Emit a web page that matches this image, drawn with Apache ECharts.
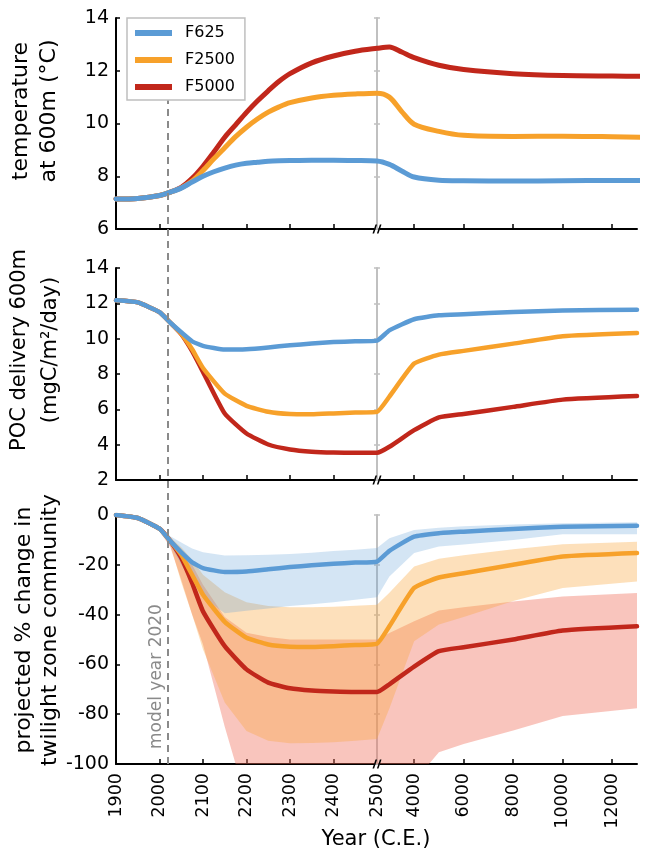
<!DOCTYPE html>
<html><head><meta charset="utf-8">
<script src="https://cdn.jsdelivr.net/npm/echarts@6/dist/echarts.min.js"></script>
<style>html,body{margin:0;padding:0;background:#fff}#c{width:651px;height:854px}</style>
</head><body><div id="c"></div>
<script>
// ---------- DATA ----------
const tickYears = [1900,2000,2100,2200,2300,2400,2500,4000,6000,8000,10000,12000];
const tickLabels = ['1900','2000','2100','2200','2300','2400','2500','4000','6000','8000','10000','12000'];
const seriesNames = ['F625','F2500','F5000'];

// temperature at 600m
const topYears = [1900,1950,2000,2025,2050,2075,2100,2125,2150,2175,2200,2225,2250,2275,2300,2350,2400,2450,2500,3000,3500,4000,5000,6000,8000,10000,12000,13300];
const topF625  = [7.14,7.16,7.27,7.40,7.55,7.78,8.00,8.17,8.31,8.42,8.49,8.53,8.57,8.59,8.60,8.61,8.61,8.60,8.58,8.45,8.20,7.97,7.85,7.83,7.82,7.83,7.84,7.84];
const topF2500 = [7.14,7.16,7.27,7.40,7.56,7.82,8.22,8.66,9.08,9.50,9.86,10.17,10.43,10.63,10.79,10.97,11.07,11.12,11.15,11.00,10.45,9.97,9.70,9.55,9.51,9.52,9.50,9.48];
const topF5000 = [7.14,7.16,7.27,7.40,7.58,7.92,8.38,8.92,9.48,9.95,10.42,10.85,11.24,11.60,11.89,12.30,12.56,12.74,12.85,12.90,12.71,12.50,12.21,12.05,11.89,11.82,11.80,11.79];

// POC delivery 600m
const midYears = [1900,1950,2000,2025,2050,2075,2100,2150,2200,2250,2300,2350,2400,2450,2500,3000,4000,5000,6000,8000,10000,13000];
const midF625  = [12.17,12.05,11.50,10.90,10.36,9.85,9.59,9.38,9.40,9.50,9.63,9.72,9.81,9.85,9.89,10.47,11.10,11.32,11.38,11.51,11.60,11.64];
const midF2500 = [12.17,12.05,11.50,10.90,10.28,9.40,8.34,6.89,6.20,5.86,5.73,5.72,5.77,5.82,5.86,6.72,8.59,9.10,9.31,9.72,10.14,10.32];
const midF5000 = [12.17,12.05,11.50,10.90,10.25,9.29,8.12,5.76,4.63,4.01,3.73,3.60,3.55,3.54,3.54,3.88,4.82,5.54,5.74,6.14,6.55,6.75];

// projected % change in twilight zone community (line, lower, upper)
const botYears = [1900,1950,2000,2025,2050,2075,2100,2150,2200,2250,2300,2350,2400,2450,2500,3000,4000,5000,6000,8000,10000,13000];
const botF625    = [0,-1.2,-5.5,-10.5,-15,-19,-21.3,-22.9,-22.7,-21.8,-20.9,-20.2,-19.6,-19.1,-18.7,-14.4,-8.7,-7.3,-6.7,-5.6,-4.7,-4.3];
const botF625Lo  = [0,-1.5,-6.5,-12,-20,-27,-33,-39.5,-38.5,-37.5,-36.5,-35.8,-35,-34,-33,-24.7,-15.3,-12.7,-11.8,-10,-7.7,-7.7];
const botF625Hi  = [0,-1,-5,-8.5,-11,-13.5,-15,-16.3,-16.2,-16,-15.7,-15.2,-14.5,-14,-13.3,-9.3,-6,-5.1,-4.5,-3.8,-3.3,-2.9];
const botF2500   = [0,-1.2,-5.5,-10.5,-16,-24,-32,-42.9,-49.3,-52,-52.9,-53,-52.7,-52.2,-51.7,-44.7,-29.3,-25.1,-23.4,-20,-16.7,-15.3];
const botF2500Lo = [0,-1.5,-6.5,-12,-27,-40,-54,-75.3,-86.7,-90.7,-91.7,-91.6,-91.3,-90.7,-90,-77.7,-50.7,-44,-41,-34.5,-29.3,-26.7];
const botF2500Hi = [0,-1,-5,-9,-13,-18,-24,-31,-35,-36.5,-37,-37,-36.8,-36.4,-36,-31.2,-20.7,-17.6,-16.2,-13.8,-11.7,-10.7];
const botF5000   = [0,-1.2,-5.5,-10.5,-17.3,-27.3,-38.7,-52.7,-62,-67.3,-69.6,-70.5,-70.9,-71.1,-71.1,-68,-60.9,-54.7,-53.1,-50,-46.4,-44.7];
const botF5000Lo = [0,-1.5,-6.5,-13,-26,-40,-52,-85,-115,-120,-120,-120,-120,-122,-125,-120,-107,-95.3,-92,-86.5,-80.7,-77.6];
const botF5000Hi = [0,-1,-5,-9,-14,-20,-28,-41,-47.3,-49,-50,-50,-50,-50,-50,-47.4,-42.7,-38.4,-37,-34.7,-32.7,-31.3];

const modelYear = 2020;
const breakYear = 2500;

// ---------- STYLE / SCALE ----------
const FONT = 'DejaVu Sans';
const COLORS = {F625:'#5b9bd5', F2500:'#f7a12a', F5000:'#c1271b'};
const BANDS = {F625:'rgba(100,160,215,0.28)', F2500:'rgba(250,165,60,0.35)', F5000:'rgba(240,110,90,0.40)'};
const K = 0.05693;                     // compression of the axis after the break
const T = y => y <= breakYear ? y : breakYear + (y - breakYear) * K;
const XMIN = 1900, XMAX = T(13000);
const GL = 116, GR = 14, W = 651;
const gridW = W - GL - GR;
const BRK_OFF = -(T(breakYear) - XMIN) / (XMAX - XMIN) * gridW;
const tickT = tickYears.map(T);

const grids = [
  {left:GL, right:GR, top:18, height:211},
  {left:GL, right:GR, top:268, height:212},
  {left:GL, right:GR, top:515, height:249},
  {left:GL, right:GR, top:18, height:746}
].map(g => Object.assign(g, {outerBoundsMode:'none', containLabel:false}));

function xAxis(gi, showLabel){
  return {gridIndex:gi, type:'value', min:XMIN, max:XMAX,
    axisLine:{show:true, onZero:false, lineStyle:{color:'#000', width:2}},
    axisTick:{show:true, inside:true, length:5, customValues:tickT, lineStyle:{color:'#000', width:1.5}},
    axisLabel:{show:showLabel, customValues:tickT, rotate:90, margin:9, fontSize:17.5, fontFamily:FONT, color:'#000', hideOverlap:false,
      formatter: v => { const i = tickT.findIndex(t => Math.abs(t - v) < 0.01); return i >= 0 ? tickLabels[i] : ''; }},
    splitLine:{show:false}};
}
function yAxis(gi, min, max, interval){
  return {gridIndex:gi, type:'value', min, max, interval,
    axisLine:{show:true, onZero:false, lineStyle:{color:'#000', width:2}},
    axisTick:{show:true, inside:true, length:4, lineStyle:{color:'#000', width:1.5}},
    axisLabel:{fontSize:19, fontFamily:FONT, color:'#000', margin:7},
    splitLine:{show:false}};
}
function breakAxis(gi, min, max, interval, inside){
  return {gridIndex:gi, type:'value', min, max, interval, position:'left', offset:BRK_OFF,
    axisLine:{show:!inside, onZero:false, lineStyle:{color:'#c0c0c0', width:2}},
    axisTick:{show:true, inside:inside, length:3, lineStyle:{color:'#c0c0c0', width:1.5}},
    axisLabel:{show:false}, splitLine:{show:false}, z:1};
}

const xAxes = [xAxis(0,false), xAxis(1,false), xAxis(2,true),
  {gridIndex:3, type:'value', min:XMIN, max:XMAX, show:false}];
const yAxes = [
  yAxis(0,6,14,2), yAxis(1,2,14,2), yAxis(2,-100,0,20),
  breakAxis(0,6,14,2,false), breakAxis(0,6,14,2,true),
  breakAxis(1,2,14,2,false), breakAxis(1,2,14,2,true),
  breakAxis(2,-100,0,20,false), breakAxis(2,-100,0,20,true),
  {gridIndex:3, type:'value', min:0, max:1, show:false}
];

const breakMark = ymin => ({silent:true, symbol:'path://M0,10L3,0L4.6,0L1.6,10Z M4.4,10L7.4,0L9,0L6,10Z', symbolSize:[9,9],
  itemStyle:{color:'#000'}, label:{show:false}, data:[{coord:[T(breakYear), ymin]}]});

function line(name, gi, years, vals, width, smooth, ymin, withMark){
  const s = {name, type:'line', xAxisIndex:gi, yAxisIndex:gi, data:years.map((y,i)=>[T(y), vals[i]]),
    symbol:'none', smooth:smooth, clip: gi !== 0, color:COLORS[name],
    lineStyle:{color:COLORS[name], width:width, cap:'round', join:'round'}, z:3};
  if (withMark) s.markPoint = breakMark(ymin);
  return s;
}
// uncertainty band: one polygon between lower and upper bound, placed through the axes' scales
function band(name, years, lo, hi){
  const pts = years.map((y,i)=>[T(y), lo[i], hi[i]]);
  return {name:name+' range', type:'custom', xAxisIndex:2, yAxisIndex:2, silent:true, z:2,
    data:pts, encode:{x:0, y:[1,2]},
    renderItem:(params, api) => {
      if (params.dataIndex !== 0) return null;
      const upper = pts.map(p => api.coord([p[0], p[2]]));
      const lower = pts.map(p => api.coord([p[0], p[1]])).reverse();
      const cs = params.coordSys;
      return {type:'polygon', shape:{points:upper.concat(lower)}, style:{fill:BANDS[name]},
        clipPath:{type:'rect', shape:{x:cs.x, y:cs.y, width:cs.width, height:cs.height}}};
    }};
}

const series = [
  band('F5000', botYears, botF5000Lo, botF5000Hi),
  band('F2500', botYears, botF2500Lo, botF2500Hi),
  band('F625', botYears, botF625Lo, botF625Hi),
  line('F5000',0,topYears,topF5000,5,0.3),
  line('F2500',0,topYears,topF2500,5,0.3),
  line('F625',0,topYears,topF625,5,0.3,6,true),
  line('F5000',1,midYears,midF5000,4.5,0.15),
  line('F2500',1,midYears,midF2500,4.5,0.15),
  line('F625',1,midYears,midF625,4.5,0.15,2,true),
  line('F5000',2,botYears,botF5000,4.5,0.15),
  line('F2500',2,botYears,botF2500,4.5,0.15),
  line('F625',2,botYears,botF625,4.5,0.15,-100,true),
  {name:'model year', type:'line', xAxisIndex:3, yAxisIndex:9, data:[], z:4,
   markLine:{silent:true, symbol:['none','none'], animation:false,
     lineStyle:{color:'#8a8a8a', width:2, type:[7,5]},
     label:{show:true, position:'insideStartTop', formatter:'model year ' + modelYear, color:'#8a8a8a', fontSize:17, fontFamily:FONT, distance:[15,3]},
     data:[[{coord:[modelYear,0]},{coord:[modelYear,1]}]]}}
];

const titleStyle = (text, size) => ({text, fill:'#000', font: size + 'px "' + FONT + '"', textAlign:'center', textVerticalAlign:'middle'});
const graphic = [
  {type:'text', x:21, y:111, rotation:Math.PI/2, style:titleStyle('temperature',22)},
  {type:'text', x:49, y:111, rotation:Math.PI/2, style:titleStyle('at 600m (\u00B0C)',22)},
  {type:'text', x:20, y:350, rotation:Math.PI/2, style:titleStyle('POC delivery 600m',21)},
  {type:'text', x:51, y:350, rotation:Math.PI/2, style:titleStyle('(mgC/m\u00B2/day)',21)},
  {type:'text', x:24, y:630, rotation:Math.PI/2, style:titleStyle('projected % change in',22)},
  {type:'text', x:50, y:630, rotation:Math.PI/2, style:titleStyle('twilight zone community',22)},
  {type:'text', x:376, y:840, style:titleStyle('Year (C.E.)',21)}
];

const chart = echarts.init(document.getElementById('c'), null, {renderer:'canvas'});
chart.setOption({
  animation:false,
  backgroundColor:'#fff',
  textStyle:{fontFamily:FONT},
  grid:grids, xAxis:xAxes, yAxis:yAxes, series, graphic,
  legend:{data:seriesNames, orient:'vertical', left:127, top:18, icon:'rect', itemWidth:37, itemHeight:6, itemGap:9,
    padding:[6,10,4,8], backgroundColor:'#fff', borderColor:'#bfbfbf', borderWidth:1.5, z:10,
    selectedMode:false,
    textStyle:{fontSize:16, fontFamily:FONT, color:'#000', padding:[0,0,0,8], lineHeight:18}}
});
</script></body></html>
